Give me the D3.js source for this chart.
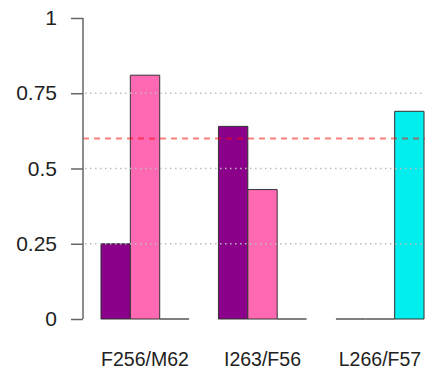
<!DOCTYPE html>
<html>
<head>
<meta charset="utf-8">
<script src="https://cdn.jsdelivr.net/npm/d3@7"></script>
<style>
  body { margin: 0; background: #fff; }
  svg { display: block; }
  text { font-family: "Liberation Sans", Arial, Helvetica, sans-serif; fill: #222; }
</style>
</head>
<body>
<svg id="plot" width="425" height="370"></svg>
<script>
"use strict";

// chart data
const groups = ["F256/M62", "I263/F56", "L266/F57"];
const seriesNames = ["purple", "pink", "cyan"];
const purpleVals = [0.25, 0.64, 0];
const pinkVals = [0.81, 0.43, 0];
const cyanVals = [0, 0, 0.69];
const threshold = 0.6;
const yTicks = [0, 0.25, 0.5, 0.75, 1];
const gridTicks = [0.25, 0.5, 0.75];

const COLORS = ["#8b008b", "#ff69b4", "#00eeee"];

const svg = d3.select("#plot");
const W = 425;
const AXIS_X = 83, PLOT_TOP = 18, PLOT_BOTTOM = 319;

const rows = groups.map((g, i) => ({
  group: g,
  values: [purpleVals[i], pinkVals[i], cyanVals[i]]
}));

const y = d3.scaleLinear().domain([0, 1]).range([PLOT_BOTTOM, PLOT_TOP]);

const x = d3.scaleBand()
  .domain(groups)
  .range([AXIS_X, 442])
  .paddingInner(0.25)
  .paddingOuter(0.153);

const xs = d3.scaleBand()
  .domain(seriesNames)
  .range([0, x.bandwidth()]);

// bars (as paths so zero-height bars still show their border)
const barG = svg.append("g");
rows.forEach((r) => {
  r.values.forEach((v, j) => {
    const x0 = x(r.group) + xs(seriesNames[j]);
    const x1 = x0 + xs.bandwidth();
    const p = d3.path();
    p.moveTo(x0, y(0));
    p.lineTo(x0, y(v));
    p.lineTo(x1, y(v));
    p.lineTo(x1, y(0));
    p.closePath();
    barG.append("path")
      .attr("d", p.toString())
      .attr("fill", COLORS[j])
      .attr("stroke", v === 0 ? "#555" : "#333")
      .attr("stroke-width", v === 0 ? 1.5 : 1);
  });
});

// dotted gridlines on top of bars
svg.append("g")
  .selectAll("line")
  .data(gridTicks)
  .join("line")
  .attr("x1", AXIS_X + 2)
  .attr("x2", W)
  .attr("y1", (d) => y(d))
  .attr("y2", (d) => y(d))
  .attr("stroke", "#bbb")
  .attr("stroke-width", 1.5)
  .attr("stroke-dasharray", "1.5,3.5");

// threshold line
svg.append("line")
  .attr("x1", AXIS_X)
  .attr("x2", W)
  .attr("y1", y(threshold))
  .attr("y2", y(threshold))
  .attr("stroke", "rgba(255,0,0,0.5)")
  .attr("stroke-width", 2)
  .attr("stroke-dasharray", "6,5");

// y axis
const yAxis = svg.append("g")
  .attr("transform", `translate(${AXIS_X},0)`)
  .call(d3.axisLeft(y).tickValues(yTicks).tickFormat(d3.format("")).tickSize(12).tickPadding(14));
yAxis.select(".domain").remove();
yAxis.append("line")
  .attr("x1", 0).attr("x2", 0)
  .attr("y1", PLOT_TOP).attr("y2", PLOT_BOTTOM)
  .attr("stroke", "#666").attr("stroke-width", 1.5);
yAxis.selectAll(".tick line").attr("stroke", "#666").attr("stroke-width", 1.5);
yAxis.selectAll(".tick text")
  .attr("fill", "#222")
  .style("font-size", "21px")
  .style("font-family", "Liberation Sans, Arial, sans-serif");

// group labels
svg.append("g")
  .selectAll("text")
  .data(groups)
  .join("text")
  .attr("x", (d) => x(d) + x.bandwidth() / 2)
  .attr("y", 366)
  .attr("text-anchor", "middle")
  .style("font-size", "19.5px")
  .text((d) => d);
</script>
</body>
</html>
